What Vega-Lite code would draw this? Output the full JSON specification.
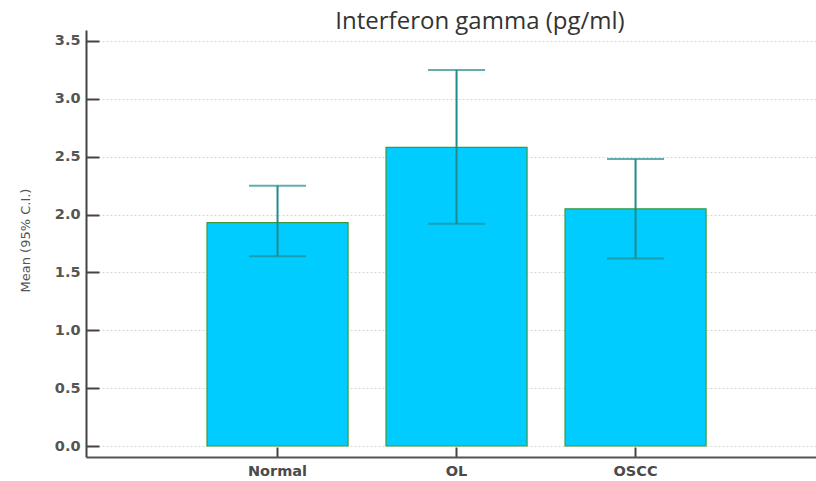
{
  "$schema": "https://vega.github.io/schema/vega-lite/v6.json",
  "width": 730,
  "height": 427,
  "autosize": {"type": "none"},
  "padding": {"left": 86, "top": 30, "right": 0, "bottom": 24},
  "background": "white",
  "config": {"view": {"stroke": null}},
  "title": {
    "text": "Interferon gamma (pg/ml)",
    "font": "Open Sans",
    "fontSize": 24,
    "fontWeight": "normal",
    "color": "#333333",
    "anchor": "middle",
    "frame": "group",
    "dx": 29,
    "offset": -4
  },
  "data": {
    "values": [
      {"group": "Normal", "mean": 1.93, "lower": 1.64, "upper": 2.25},
      {"group": "OL", "mean": 2.58, "lower": 1.92, "upper": 3.25},
      {"group": "OSCC", "mean": 2.05, "lower": 1.62, "upper": 2.48}
    ]
  },
  "encoding": {
    "x": {
      "field": "group",
      "type": "nominal",
      "sort": null,
      "scale": {"paddingInner": 0.212, "paddingOuter": 0.645, "align": 0.524},
      "axis": {
        "title": null,
        "labelAngle": 0,
        "labelFont": "DejaVu Sans",
        "labelFontSize": 14.5,
        "labelFontWeight": "bold",
        "labelColor": "#4a4a4a",
        "labelPadding": 17,
        "domainColor": "#555555",
        "domainWidth": 2,
        "tickColor": "#444444",
        "tickWidth": 2,
        "tickSize": -10,
        "grid": false
      }
    }
  },
  "layer": [
    {
      "mark": {"type": "bar", "fill": "#00CCFF", "stroke": "#3A9A3A", "strokeWidth": 1.2},
      "encoding": {
        "y": {
          "field": "mean",
          "type": "quantitative",
          "scale": {"domain": [-0.095, 3.595], "nice": false, "zero": false},
          "axis": {
            "title": "Mean (95% C.I.)",
            "titleFont": "DejaVu Sans",
            "titleFontSize": 13,
            "titleFontWeight": "normal",
            "titleColor": "#555555",
            "titlePadding": 22,
            "titleY": 210,
            "values": [0, 0.5, 1, 1.5, 2, 2.5, 3, 3.5],
            "format": ".1f",
            "labelFont": "DejaVu Sans",
            "labelFontSize": 14.5,
            "labelFontWeight": "bold",
            "labelColor": "#555555",
            "labelPadding": 19,
            "domainColor": "#444444",
            "domainWidth": 2,
            "tickColor": "#444444",
            "tickWidth": 2,
            "tickSize": -13,
            "grid": true,
            "gridColor": "#d6d6d6",
            "gridDash": [2, 2]
          }
        },
        "y2": {"datum": 0}
      }
    },
    {
      "mark": {"type": "rule", "color": "#1F8B8B", "strokeWidth": 2},
      "encoding": {
        "y": {"field": "lower", "type": "quantitative"},
        "y2": {"field": "upper"}
      }
    },
    {
      "mark": {"type": "tick", "color": "#1F8B8B", "thickness": 2, "size": 57},
      "encoding": {"y": {"field": "upper", "type": "quantitative"}}
    },
    {
      "mark": {"type": "tick", "color": "#1F8B8B", "thickness": 2, "size": 57},
      "encoding": {"y": {"field": "lower", "type": "quantitative"}}
    }
  ]
}
